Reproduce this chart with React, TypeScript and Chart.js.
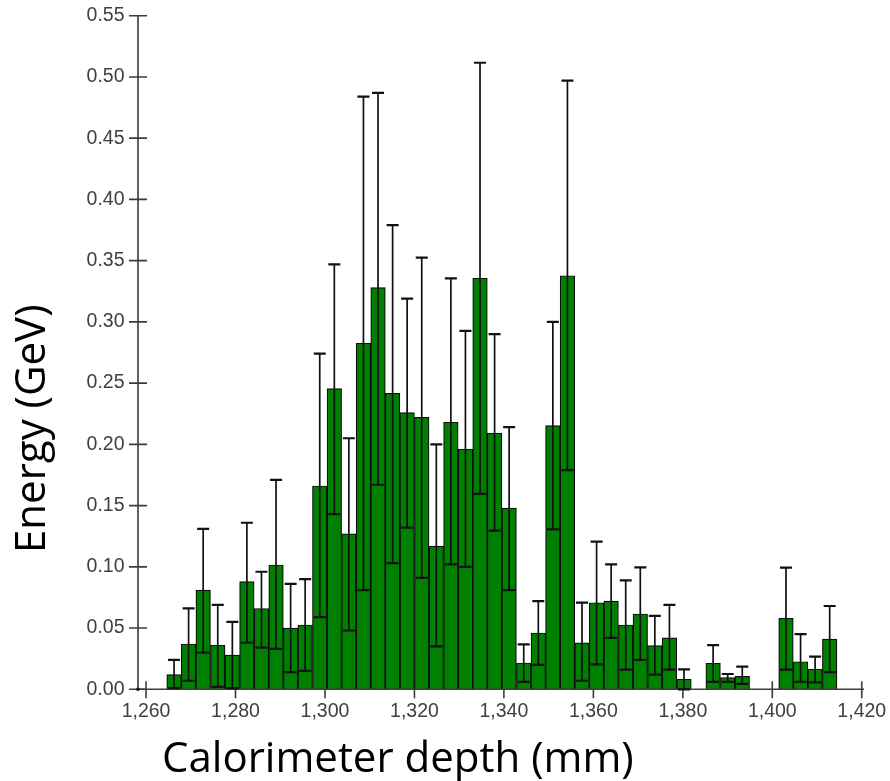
import { useEffect, useRef } from 'react';
import { Chart, registerables } from 'chart.js';

Chart.register(...registerables);

// Bin centres (mm)
const binCenters = [
  1266.26, 1269.51, 1272.77, 1276.03, 1279.29, 1282.54, 1285.80, 1289.06, 1292.32, 1295.57,
  1298.83, 1302.09, 1305.34, 1308.60, 1311.86, 1315.12, 1318.37, 1321.63, 1324.89, 1328.14,
  1331.40, 1334.66, 1337.92, 1341.17, 1344.43, 1347.69, 1350.94, 1354.20, 1357.46, 1360.72,
  1363.97, 1367.23, 1370.49, 1373.74, 1377.00, 1380.26, 1383.52, 1386.77, 1390.03, 1393.29,
  1396.54, 1399.80, 1403.06, 1406.32, 1409.57, 1412.83,
];

// Energy per bin (GeV)
const energy: (number | null)[] = [
  0.012, 0.037, 0.081, 0.036, 0.028, 0.088, 0.066, 0.1015, 0.050, 0.0525,
  0.166, 0.2455, 0.127, 0.2825, 0.328, 0.2417, 0.226, 0.222, 0.117, 0.218,
  0.196, 0.3356, 0.209, 0.148, 0.0215, 0.046, 0.2153, 0.3377, 0.038, 0.0707,
  0.072, 0.0525, 0.0615, 0.0356, 0.042, 0.0082, null, 0.0212, 0.0095, 0.0105,
  null, null, 0.058, 0.0225, 0.0163, 0.041,
];

// Lower end of error bar
const errLow: (number | null)[] = [
  0.001, 0.007, 0.030, 0.002, 0.001, 0.038, 0.034, 0.033, 0.014, 0.015,
  0.059, 0.143, 0.048, 0.081, 0.167, 0.103, 0.132, 0.091, 0.035, 0.102,
  0.100, 0.1595, 0.1295, 0.081, 0.006, 0.020, 0.1306, 0.179, 0.007, 0.0204,
  0.042, 0.016, 0.024, 0.012, 0.016, 0.0, null, 0.006, 0.006, 0.0045,
  null, null, 0.016, 0.006, 0.0057, 0.014,
];

// Upper end of error bar
const errHigh: (number | null)[] = [
  0.024, 0.066, 0.131, 0.069, 0.055, 0.136, 0.096, 0.171, 0.086, 0.090,
  0.274, 0.347, 0.205, 0.484, 0.487, 0.379, 0.319, 0.3525, 0.200, 0.3356,
  0.2926, 0.5116, 0.290, 0.214, 0.0367, 0.072, 0.300, 0.497, 0.0707, 0.1205,
  0.102, 0.089, 0.0995, 0.060, 0.069, 0.0163, null, 0.036, 0.0125, 0.0185,
  null, null, 0.0993, 0.045, 0.0266, 0.068,
];

const xTicks = [1260, 1280, 1300, 1320, 1340, 1360, 1380, 1400, 1420];
const yTicks = [0, 0.05, 0.1, 0.15, 0.2, 0.25, 0.3, 0.35, 0.4, 0.45, 0.5, 0.55];

const xTitle = 'Calorimeter depth (mm)';
const yTitle = 'Energy (GeV)';

const AXIS_COLOR = '#3c3c3c';
const ERR_COLOR = '#111111';

const customPlugin = {
  id: 'customAxesAndErrors',
  beforeDatasetsDraw(chart: any) {
    const { ctx, chartArea, scales } = chart;
    const x = scales.x;
    const y = scales.y;
    ctx.save();
    ctx.strokeStyle = AXIS_COLOR;
    ctx.lineWidth = 1.6;
    ctx.beginPath();
    for (const v of yTicks) {
      const py = y.getPixelForValue(v);
      ctx.moveTo(chartArea.left - 9, py);
      ctx.lineTo(chartArea.left + 9, py);
    }
    for (const v of xTicks) {
      const px = x.getPixelForValue(v);
      ctx.moveTo(px, chartArea.bottom - 8);
      ctx.lineTo(px, chartArea.bottom + 9);
    }
    ctx.stroke();
    ctx.restore();
  },
  afterDatasetsDraw(chart: any) {
    const { ctx, chartArea, scales } = chart;
    const x = scales.x;
    const y = scales.y;
    ctx.save();
    // axis lines
    ctx.strokeStyle = AXIS_COLOR;
    ctx.lineWidth = 1.6;
    ctx.beginPath();
    ctx.moveTo(chartArea.left, chartArea.top);
    ctx.lineTo(chartArea.left, chartArea.bottom);
    ctx.lineTo(chartArea.right, chartArea.bottom);
    ctx.stroke();
    // origin dot
    ctx.fillStyle = '#111';
    ctx.beginPath();
    ctx.arc(chartArea.left, chartArea.bottom, 1.8, 0, Math.PI * 2);
    ctx.fill();
    // error bars
    ctx.strokeStyle = ERR_COLOR;
    for (let i = 0; i < binCenters.length; i++) {
      const lo = errLow[i];
      const hi = errHigh[i];
      if (lo == null || hi == null) continue;
      const px = x.getPixelForValue(binCenters[i]);
      const pLo = y.getPixelForValue(lo);
      const pHi = y.getPixelForValue(hi);
      ctx.lineWidth = 1.7;
      ctx.beginPath();
      ctx.moveTo(px, pLo);
      ctx.lineTo(px, pHi);
      ctx.stroke();
      ctx.lineWidth = 2.2;
      ctx.beginPath();
      ctx.moveTo(px - 6, pHi);
      ctx.lineTo(px + 6, pHi);
      ctx.moveTo(px - 6, pLo);
      ctx.lineTo(px + 6, pLo);
      ctx.stroke();
    }
    ctx.restore();
  },
  afterDraw(chart: any) {
    const { ctx } = chart;
    ctx.save();
    ctx.fillStyle = '#000';
    ctx.font = '42px "Open Sans"';
    ctx.textAlign = 'left';
    ctx.textBaseline = 'alphabetic';
    ctx.fillText(xTitle, 162, 772);
    ctx.translate(45, 553);
    ctx.rotate(-Math.PI / 2);
    ctx.fillText(yTitle, 0, 0);
    ctx.restore();
  },
};

export default function App() {
  const canvasRef = useRef<HTMLCanvasElement | null>(null);

  useEffect(() => {
    const canvas = canvasRef.current;
    if (!canvas) return;
    const points = binCenters.map((c, i) => ({ x: c, y: energy[i] }));
    const chart = new Chart(canvas, {
      type: 'bar',
      data: {
        datasets: [
          {
            data: points as any,
            backgroundColor: '#008000',
            borderColor: '#0d0d0d',
            borderWidth: 1.2,
            barPercentage: 1,
            categoryPercentage: 1,
          },
        ],
      },
      options: {
        animation: false,
        responsive: true,
        maintainAspectRatio: false,
        layout: { padding: { top: 15.7, right: 26, bottom: 0, left: 0 } },
        plugins: {
          legend: { display: false },
          tooltip: { enabled: false },
        },
        scales: {
          x: {
            type: 'linear',
            min: 1258.2,
            max: 1420.5,
            offset: false,
            grid: { display: false, drawTicks: false },
            border: { display: false },
            afterBuildTicks: (scale: any) => {
              scale.ticks = xTicks.map((v) => ({ value: v }));
            },
            afterFit: (scale: any) => {
              scale.height = 91.7;
              scale.paddingLeft = 0;
              scale.paddingRight = 0;
              scale.paddingTop = 0;
              scale.paddingBottom = 0;
            },
            ticks: {
              padding: 11,
              color: '#404040',
              font: { family: '"Liberation Sans", Arial, sans-serif', size: 19.5 },
              callback: (v: any) => Number(v).toLocaleString('en-US'),
              maxRotation: 0,
              autoSkip: false,
            },
          },
          y: {
            type: 'linear',
            min: 0,
            max: 0.55,
            grid: { display: false, drawTicks: false },
            border: { display: false },
            afterBuildTicks: (scale: any) => {
              scale.ticks = yTicks.map((v) => ({ value: v }));
            },
            afterFit: (scale: any) => {
              scale.width = 138;
              scale.paddingLeft = 0;
              scale.paddingRight = 0;
              scale.paddingTop = 0;
              scale.paddingBottom = 0;
            },
            ticks: {
              padding: 13.5,
              color: '#404040',
              font: { family: '"Liberation Sans", Arial, sans-serif', size: 19.5 },
              callback: (v: any) => Number(v).toFixed(2),
              autoSkip: false,
            },
          },
        },
      },
      plugins: [customPlugin],
    });
    return () => chart.destroy();
  }, []);

  return (
    <div style={{ position: 'absolute', left: 0, top: 0, width: 890, height: 781, background: '#fff' }}>
      <canvas ref={canvasRef} />
    </div>
  );
}
